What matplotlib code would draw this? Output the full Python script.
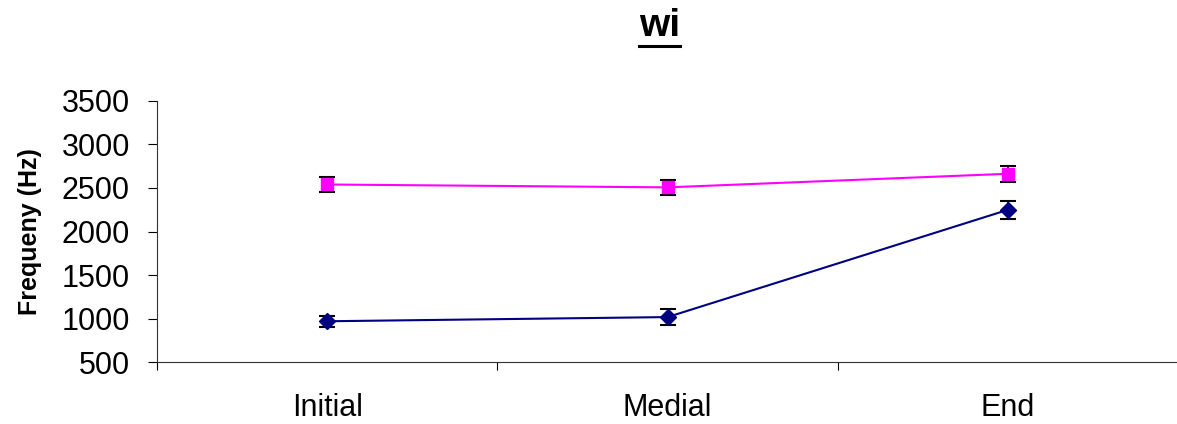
import matplotlib
matplotlib.use("Agg")
import matplotlib.pyplot as plt
from matplotlib.lines import Line2D

plt.rcParams['font.family'] = ['Liberation Sans', 'DejaVu Sans']

positions = ["Initial", "Medial", "End"]
f2_mean = [2540, 2507, 2663]
f2_err = [83, 88, 92]
f1_mean = [969, 1017, 2249]
f1_err = [63, 92, 101]
y_ticks = [500, 1000, 1500, 2000, 2500, 3000, 3500]

fig = plt.figure(figsize=(11.77, 4.24), dpi=100)
ax = fig.add_axes([0.1334, 0.146, 0.8675, 0.616])

x = list(range(len(positions)))

ax.errorbar(x, f2_mean, yerr=f2_err, color="#FF00FF", ecolor="black",
            marker="s", markersize=8.5, linewidth=1.5, elinewidth=1.2,
            capsize=5.5, capthick=1.5, zorder=3)
ax.errorbar(x, f1_mean, yerr=f1_err, color="#000080", ecolor="black",
            marker="D", markersize=8, linewidth=1.5, elinewidth=1.2,
            capsize=5.5, capthick=1.5, zorder=3)

ax.set_xlim(-0.5, len(positions) - 0.5)
ax.set_ylim(500, 3500)
ax.set_yticks(y_ticks)
ax.tick_params(axis="y", labelsize=22, length=6.5, width=0.8, pad=13, color="black")

# category boundaries as major ticks, labels on minor ticks
ax.set_xticks([i - 0.5 for i in range(len(positions) + 1)])
ax.set_xticklabels([])
ax.set_xticks(x, minor=True)
ax.set_xticklabels(positions, minor=True)
ax.tick_params(axis="x", which="major", length=6, width=0.8)
ax.tick_params(axis="x", which="minor", length=0, labelsize=22, pad=22)

for s in ["top", "right"]:
    ax.spines[s].set_visible(False)
for s in ["left", "bottom"]:
    ax.spines[s].set_linewidth(0.8)
    ax.spines[s].set_color("#333333")

ax.set_ylabel("Frequeny (Hz)", fontsize=18, fontweight="bold", labelpad=14)

title = fig.text(0.5605, 0.915, "wi", fontsize=28, fontweight="bold",
                 ha="center", va="baseline")
fig.canvas.draw()
bb = title.get_window_extent()
ul_y = bb.y0 - 2
fig.add_artist(Line2D([bb.x0 / fig.bbox.width, bb.x1 / fig.bbox.width],
                      [ul_y / fig.bbox.height, ul_y / fig.bbox.height],
                      color="black", linewidth=2.2, transform=fig.transFigure))

fig.savefig("out.png", dpi=100)
